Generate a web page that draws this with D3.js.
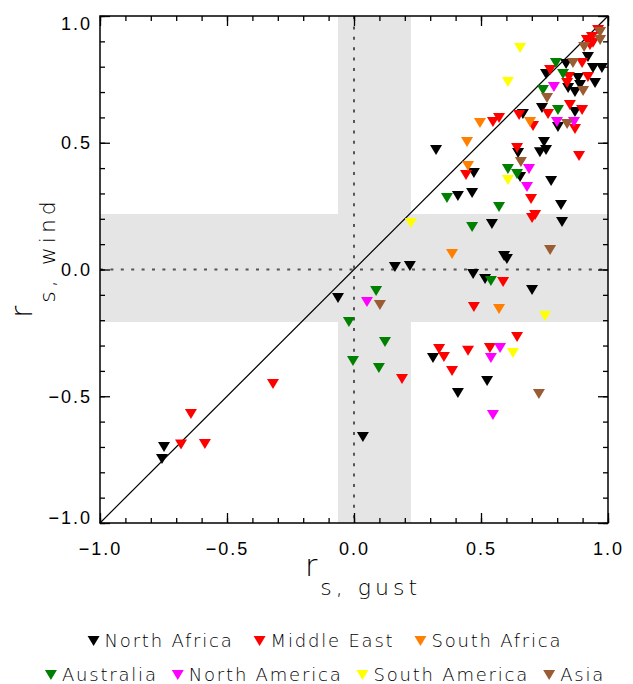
<!DOCTYPE html>
<html>
<head>
<meta charset="utf-8">
<script src="https://cdn.jsdelivr.net/npm/d3@7"></script>
<style>
  body { margin: 0; background: #fff; }
  svg { display: block; font-family: "DejaVu Sans", sans-serif; font-weight: 200; }
</style>
</head>
<body>
<div id="chart"></div>
<script>
// Region names and colours (legend order)
const regions = ["North Africa", "Middle East", "South Africa", "Australia",
                 "North America", "South America", "Asia"];
const colors = ["#000000", "#ff0000", "#ff7f00", "#008000",
                "#ff00ff", "#ffff00", "#9a5c32"];

// r_s, gust (x) and r_s, wind (y) per region
const northAfricaX = [-0.748, -0.756, -0.063, 0.035, 0.161, 0.220, 0.311, 0.409, 0.524, 0.469,
  0.516, 0.701, 0.591, 0.602, 0.543, 0.819, 0.409, 0.465, 0.472, 0.323, 0.654, 0.776, 0.815,
  0.646, 0.732, 0.756, 0.748, 0.665, 0.740, 0.803, 0.870, 0.756, 0.835, 0.843, 0.870, 0.890,
  0.882, 0.949, 0.941, 0.976, 0.921];
const northAfricaY = [-0.700, -0.748, -0.112, -0.661, 0.010, 0.014, -0.349, -0.487, -0.440, -0.018,
  -0.037, -0.081, 0.053, 0.041, 0.179, 0.187, 0.290, 0.302, 0.381, 0.471, 0.365, 0.349, 0.254,
  0.460, 0.463, 0.471, 0.503, 0.613, 0.637, 0.562, 0.621, 0.771, 0.811, 0.716, 0.700, 0.728,
  0.755, 0.736, 0.795, 0.795, 0.838];

const middleEastX = [-0.681, -0.642, -0.587, -0.319, 0.189, 0.335, 0.354, 0.386, 0.449, 0.535,
  0.642, 0.472, 0.587, 0.701, 0.713, 0.697, 0.441, 0.642, 0.886, 0.870, 0.547, 0.571, 0.650,
  0.705, 0.764, 0.850, 0.898, 0.772, 0.846, 0.839, 0.921, 0.898, 0.961, 0.937, 0.917, 0.941, 0.929];
const middleEastY = [-0.690, -0.570, -0.688, -0.452, -0.432, -0.314, -0.345, -0.400, -0.321, -0.310,
  -0.266, -0.148, -0.049, 0.203, 0.215, 0.278, 0.373, 0.479, 0.448, 0.554, 0.582, 0.598, 0.609,
  0.566, 0.613, 0.649, 0.629, 0.787, 0.759, 0.736, 0.759, 0.815, 0.945, 0.917, 0.905, 0.894, 0.886];

const southAfricaX = [0.386, 0.571, 0.445, 0.496, 0.693, 0.449];
const southAfricaY = [0.061, -0.156, 0.503, 0.578, 0.582, 0.408];

const australiaX = [-0.020, 0.087, 0.122, -0.004, 0.098, 0.465, 0.539, 0.366, 0.571, 0.606,
  0.642, 0.803, 0.744, 0.795, 0.823];
const australiaY = [-0.207, -0.085, -0.286, -0.361, -0.389, 0.168, -0.045, 0.282, 0.247, 0.396,
  0.377, 0.629, 0.708, 0.815, 0.771];

const northAmericaX = [0.051, 0.575, 0.539, 0.547, 0.689, 0.681, 0.799, 0.866, 0.787];
const northAmericaY = [-0.128, -0.310, -0.349, -0.574, 0.396, 0.325, 0.582, 0.582, 0.720];

const southAmericaX = [0.224, 0.752, 0.626, 0.606, 0.654, 0.606];
const southAmericaY = [0.183, -0.183, -0.329, 0.353, 0.874, 0.740];

const asiaX = [0.102, 0.772, 0.728, 0.657, 0.839, 0.760, 0.902, 0.862, 0.969, 0.969, 0.906];
const asiaY = [-0.140, 0.077, -0.491, 0.424, 0.574, 0.677, 0.704, 0.815, 0.937, 0.905, 0.878];

// Shaded bands (insignificant ranges)
const bandGust = [-0.063, 0.224];
const bandWind = [-0.207, 0.219];

const majorTicks = [-1.0, -0.5, 0.0, 0.5, 1.0];
const minorTicks = d3.range(-10, 11).map(d => d / 10);

const seriesX = [northAfricaX, middleEastX, southAfricaX, australiaX, northAmericaX, southAmericaX, asiaX];
const seriesY = [northAfricaY, middleEastY, southAfricaY, australiaY, northAmericaY, southAmericaY, asiaY];

const width = 633, height = 684;
const margin = {left: 100, right: 25, top: 16, bottom: 161};
const iw = width - margin.left - margin.right;
const ih = height - margin.top - margin.bottom;

const svg = d3.select("#chart").append("svg")
  .attr("width", width).attr("height", height);
const g = svg.append("g").attr("transform", `translate(${margin.left},${margin.top})`);

const x = d3.scaleLinear().domain([-1, 1]).range([0, iw]);
const y = d3.scaleLinear().domain([-1, 1]).range([ih, 0]);

// grey bands
g.append("rect")
  .attr("x", x(bandGust[0])).attr("y", 0)
  .attr("width", x(bandGust[1]) - x(bandGust[0])).attr("height", ih)
  .attr("fill", "#e5e5e5");
g.append("rect")
  .attr("x", 0).attr("y", y(bandWind[1]))
  .attr("width", iw).attr("height", y(bandWind[0]) - y(bandWind[1]))
  .attr("fill", "#e5e5e5");

// dotted zero lines
g.append("line").attr("x1", x(0)).attr("x2", x(0)).attr("y1", 0).attr("y2", ih)
  .attr("stroke", "#555").attr("stroke-width", 2).attr("stroke-dasharray", "3,7.4");
g.append("line").attr("x1", 0).attr("x2", iw).attr("y1", y(0)).attr("y2", y(0))
  .attr("stroke", "#555").attr("stroke-width", 2).attr("stroke-dasharray", "3,7.4");

// 1:1 line
g.append("line").attr("x1", x(-1)).attr("y1", y(-1)).attr("x2", x(1)).attr("y2", y(1))
  .attr("stroke", "#000").attr("stroke-width", 1.2);

// axes: major ticks with labels, minor ticks without, mirrored on top/right
const fmt = d3.format(".1f");
function styleAxis(sel) {
  sel.select(".domain").remove();
  sel.selectAll("line").attr("stroke", "#000").attr("stroke-width", 1.3);
  sel.selectAll("text").attr("font-size", 18).attr("fill", "#000")
    .attr("font-family", null).attr("letter-spacing", 2);
}
g.append("g").attr("transform", `translate(0,${ih})`)
  .call(d3.axisBottom(x).tickValues(majorTicks).tickFormat(fmt).tickSize(-10).tickPadding(19))
  .call(styleAxis);
g.append("g").attr("transform", `translate(0,${ih})`)
  .call(d3.axisBottom(x).tickValues(minorTicks).tickFormat("").tickSize(-5)).call(styleAxis);
g.append("g")
  .call(d3.axisTop(x).tickValues(majorTicks).tickFormat("").tickSize(-10)).call(styleAxis);
g.append("g")
  .call(d3.axisTop(x).tickValues(minorTicks).tickFormat("").tickSize(-5)).call(styleAxis);
const leftAxis = g.append("g")
  .call(d3.axisLeft(y).tickValues(majorTicks).tickFormat(fmt).tickSize(-10).tickPadding(8))
  .call(styleAxis);
g.append("g")
  .call(d3.axisLeft(y).tickValues(minorTicks).tickFormat("").tickSize(-5)).call(styleAxis);
g.append("g").attr("transform", `translate(${iw},0)`)
  .call(d3.axisRight(y).tickValues(majorTicks).tickFormat("").tickSize(-10)).call(styleAxis);
g.append("g").attr("transform", `translate(${iw},0)`)
  .call(d3.axisRight(y).tickValues(minorTicks).tickFormat("").tickSize(-5)).call(styleAxis);

// end labels sit a little inside the frame, like the original
leftAxis.selectAll(".tick text").filter(d => d === 1).attr("dy", "0.75em");
leftAxis.selectAll(".tick text").filter(d => d === -1).attr("dy", "0.05em");

// frame
g.append("rect").attr("width", iw).attr("height", ih)
  .attr("fill", "none").attr("stroke", "#000").attr("stroke-width", 1.5);

// points
const tri = "M-6,-5L6,-5L0,5Z";
seriesX.forEach((xs, i) => {
  const pts = xs.map((v, j) => ({x: v, y: seriesY[i][j]}));
  g.append("g").selectAll("path").data(pts).enter().append("path")
    .attr("d", tri)
    .attr("transform", d => `translate(${x(d.x)},${y(d.y)})`)
    .attr("fill", colors[i]);
});

// axis titles
const xt = svg.append("text").attr("x", 305).attr("y", 576).attr("fill", "#000");
xt.append("tspan").attr("font-size", 30).text("r");
xt.append("tspan").attr("font-size", 22).attr("dx", 3).attr("dy", 19)
  .attr("letter-spacing", 4).text("s, gust");

const yt = svg.append("text").attr("transform", "translate(32,318) rotate(-90)").attr("fill", "#000");
yt.append("tspan").attr("font-size", 30).text("r");
yt.append("tspan").attr("font-size", 22).attr("dx", 3).attr("dy", 23)
  .attr("letter-spacing", 4).text("s, wind");

// legend, two centred rows
const rows = [[0, 1, 2], [3, 4, 5, 6]];
const rowY = [641, 675];
const rowGap = [20, 14];
const centre = 325;
rows.forEach((row, r) => {
  const lg = svg.append("g");
  let cx = 0;
  row.forEach(i => {
    const item = lg.append("g").attr("transform", `translate(${cx},0)`);
    item.append("path").attr("d", tri).attr("transform", "translate(6,0)").attr("fill", colors[i]);
    const t = item.append("text").attr("x", 17).attr("y", 6).attr("font-size", 18)
      .attr("letter-spacing", 1.8).attr("fill", "#000").text(regions[i]);
    cx += 17 + t.node().getComputedTextLength() + rowGap[r];
  });
  const total = cx - rowGap[r];
  lg.attr("transform", `translate(${centre - total / 2},${rowY[r]})`);
});
</script>
</body>
</html>
